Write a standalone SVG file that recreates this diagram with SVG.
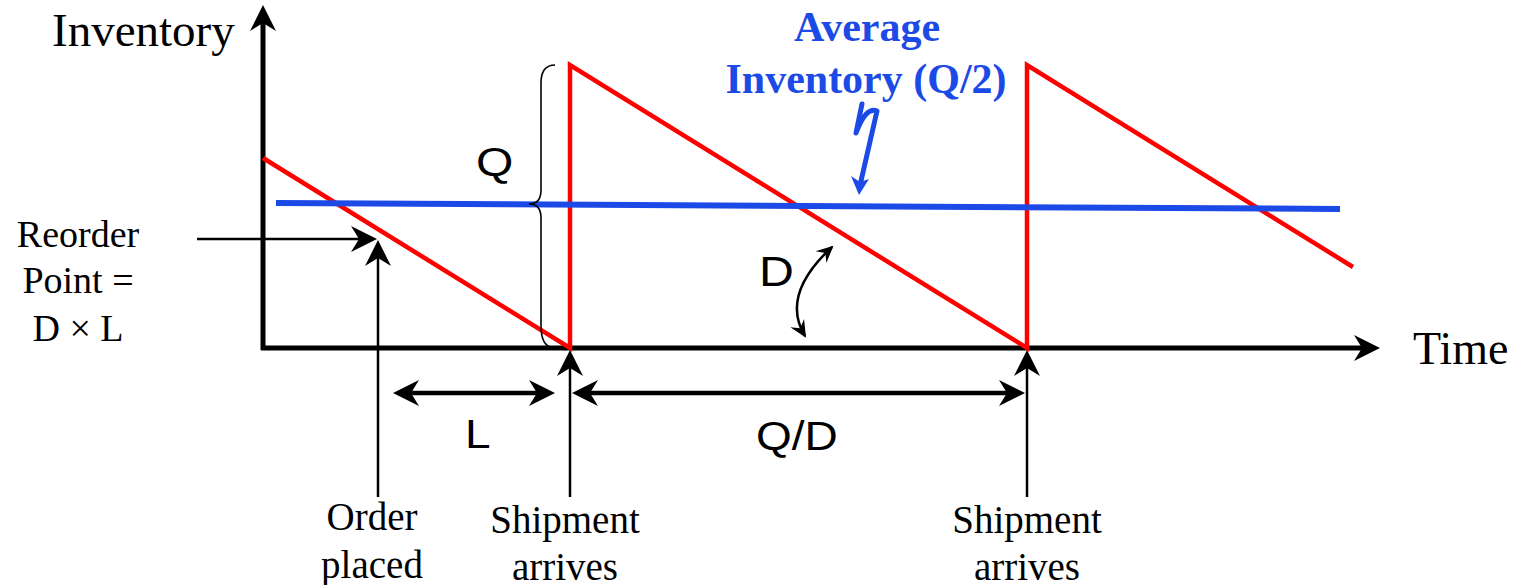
<svg xmlns="http://www.w3.org/2000/svg" width="1522" height="585" viewBox="0 0 1522 585">
<style>
.serif{font-family:"Liberation Serif","Times New Roman",serif;fill:#000}
.sans{font-family:"Liberation Sans",Arial,sans-serif;fill:#000}
.blue{font-family:"Liberation Serif","Times New Roman",serif;font-weight:bold;fill:#1c4ae6}
.thin{stroke:#000;stroke-width:2.5;fill:none}
.thick{stroke:#000;stroke-width:4.5;fill:none}
</style>
<defs>
<marker id="ah" viewBox="-28 -14 30 28" refX="-10" refY="0" markerWidth="30" markerHeight="28" markerUnits="userSpaceOnUse" orient="auto-start-reverse">
<path d="M0,0 L-26,-13 L-18,0 L-26,13 Z" fill="#000"/>
</marker>
<marker id="ahs" viewBox="-20 -10 22 20" refX="-2" refY="0" markerWidth="22" markerHeight="20" markerUnits="userSpaceOnUse" orient="auto-start-reverse">
<path d="M0,0 L-17,-8 L-11,0 L-17,8 Z" fill="#000"/>
</marker>
</defs>
<g id="axes">
<line x1="263" y1="350" x2="263" y2="15" stroke="#000" stroke-width="5" marker-end="url(#ah)"/>
<line x1="261" y1="348" x2="1370" y2="348" stroke="#000" stroke-width="5" marker-end="url(#ah)"/>
</g>
<g id="inventory-curve">
<polyline points="263,158 570,348 570,65 1027,348 1027,65 1353,267" fill="none" stroke="#ff0000" stroke-width="4.5" stroke-linejoin="miter"/>
</g>
<g id="average-line">
<line x1="276" y1="203" x2="1340" y2="209" stroke="#1c4ae6" stroke-width="6"/>
</g>
<g id="connectors">
<path d="M555,65 Q541,65 541,83 L541,190 Q541,204 529,204 Q541,204 541,218 L541,325 Q541,345 551,347" stroke="#000" stroke-width="1.6" fill="none"/>
<line class="thin" x1="197" y1="239" x2="367" y2="239" marker-end="url(#ah)"/>
<line class="thin" x1="378" y1="497" x2="378" y2="250" marker-end="url(#ah)"/>
<line class="thin" x1="570" y1="497" x2="570" y2="360" marker-end="url(#ah)"/>
<line class="thin" x1="1027" y1="497" x2="1027" y2="360" marker-end="url(#ah)"/>
<line class="thick" x1="403" y1="393" x2="545" y2="393" marker-start="url(#ah)" marker-end="url(#ah)"/>
<line class="thick" x1="582" y1="393" x2="1015" y2="393" marker-start="url(#ah)" marker-end="url(#ah)"/>
<path class="thin" d="M805,336 Q780,295 832,247" marker-start="url(#ahs)" marker-end="url(#ahs)"/>
<path d="M862,104 L856,133 Q866,106 877,111 L861,181" stroke="#1c4ae6" stroke-width="5" fill="none" stroke-linecap="round" stroke-linejoin="round"/>
<path d="M859,195 L851,176 L860,182 L869,179 Z" fill="#1c4ae6"/>
</g>
<g id="labels">
<text class="serif" x="52" y="46" font-size="47">Inventory</text>
<text class="serif" x="1413" y="364" font-size="46">Time</text>
<text class="blue" x="867" y="41" font-size="42" text-anchor="middle">Average</text>
<text class="blue" x="866" y="93" font-size="42" text-anchor="middle">Inventory (Q/2)</text>
<text class="serif" x="78" y="247" font-size="38" text-anchor="middle">Reorder</text>
<text class="serif" x="78" y="293" font-size="38" text-anchor="middle">Point =</text>
<text class="serif" x="78" y="341" font-size="38" text-anchor="middle">D × L</text>
<text class="serif" x="372" y="530" font-size="39" text-anchor="middle">Order</text>
<text class="serif" x="372" y="578" font-size="39" text-anchor="middle">placed</text>
<text class="serif" x="565" y="533" font-size="39" text-anchor="middle">Shipment</text>
<text class="serif" x="565" y="580" font-size="39" text-anchor="middle">arrives</text>
<text class="serif" x="1027" y="533" font-size="39" text-anchor="middle">Shipment</text>
<text class="serif" x="1027" y="580" font-size="39" text-anchor="middle">arrives</text>
<text class="sans" transform="translate(476,176) scale(1.2,1)" font-size="40">Q</text>
<text class="sans" transform="translate(759,286) scale(1.15,1)" font-size="42">D</text>
<text class="sans" transform="translate(465,448) scale(1.15,1)" font-size="40">L</text>
<text class="sans" transform="translate(756,450) scale(1.15,1)" font-size="40">Q/D</text>
</g>
</svg>
